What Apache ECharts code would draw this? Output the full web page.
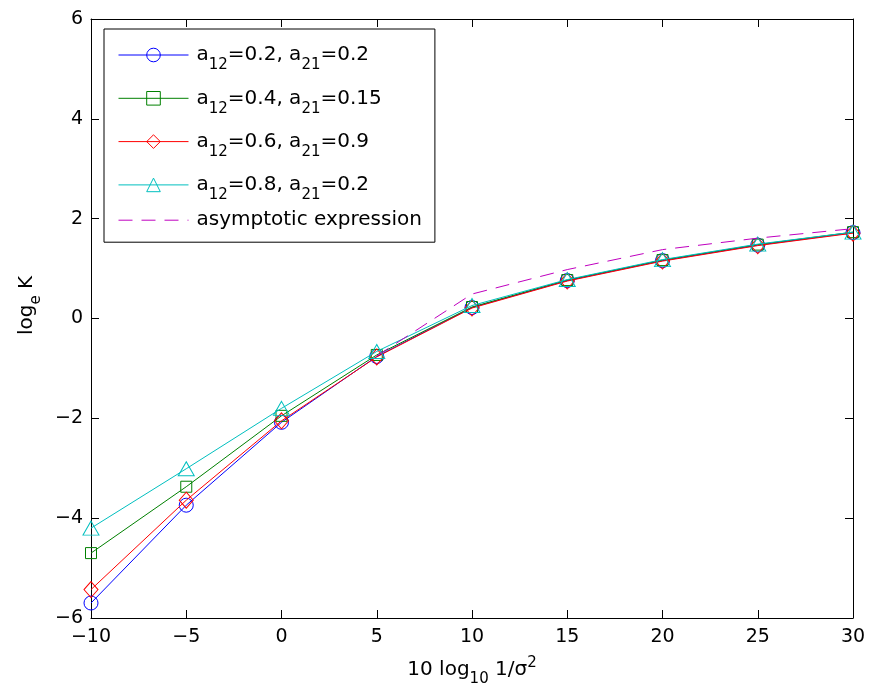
<!DOCTYPE html>
<html><head><meta charset="utf-8">
<script src="https://cdn.jsdelivr.net/npm/echarts@6/dist/echarts.min.js"></script>
<style>html,body{margin:0;padding:0;background:#fff}#c{width:869px;height:693px}</style>
</head><body><div id="c"></div>
<script>
const xValues = [-10, -5, 0, 5, 10, 15, 20, 25, 30];
const serA = [-5.70, -3.74, -2.08, -0.76, 0.22, 0.76, 1.16, 1.47, 1.72];
const serB = [-4.70, -3.37, -1.95, -0.73, 0.23, 0.77, 1.17, 1.48, 1.73];
const serC = [-5.43, -3.64, -2.05, -0.77, 0.21, 0.75, 1.15, 1.46, 1.71];
const serD = [-4.20, -3.01, -1.80, -0.66, 0.26, 0.78, 1.18, 1.49, 1.73];
const asymX = [5, 10, 15, 20, 25, 30];
const asymY = [-0.75, 0.49, 0.98, 1.38, 1.61, 1.80];
const a12 = ['0.2', '0.4', '0.6', '0.8'];
const a21 = ['0.2', '0.15', '0.9', '0.2'];
const asymName = 'asymptotic expression';
const xTicks = { min: -10, max: 30, step: 5 };
const yTicks = { min: -6, max: 6, step: 2 };

const FONT = 'DejaVu Sans';
const colors = ['#0000ff', '#008000', '#ff0000', '#00bfbf'];
const markers = ['circle', 'rect', 'diamond', 'triangle'];
const markerSizes = [14, 11, [14, 16], [16, 14]];
const seriesVals = [serA, serB, serC, serD];
const names = a12.map((v, i) => `a12=${v}, a21=${a21[i]}`);
const richNames = {};
names.forEach((n, i) => {
  richNames[n] = `{n|a}{s|12}{n|=${a12[i]}, a}{s|21}{n|=${a21[i]}}`;
});
richNames[asymName] = `{n|${asymName}}`;
const DASH = [14, 9];

const fmtMinus = v => String(v).replace('-', '\u2212');

const series = seriesVals.map((vals, i) => ({
  name: names[i],
  type: 'line',
  xAxisIndex: 0, yAxisIndex: 0,
  data: xValues.map((x, j) => [x, vals[j]]),
  symbol: markers[i],
  symbolSize: markerSizes[i],
  showAllSymbol: true,
  color: colors[i],
  lineStyle: { color: colors[i], width: 1 },
  itemStyle: { color: 'rgba(0,0,0,0)', borderColor: colors[i], borderWidth: 1 },
  emphasis: { disabled: true },
  animation: false,
  z: 2 + i
}));
series.push({
  name: asymName,
  type: 'line',
  xAxisIndex: 0, yAxisIndex: 0,
  data: asymX.map((x, j) => [x, asymY[j]]),
  symbol: 'none',
  color: '#bf00bf',
  lineStyle: { color: '#bf00bf', width: 1, type: DASH },
  emphasis: { disabled: true },
  animation: false,
  z: 7
});

const axisCommon = {
  axisLine: { show: true, onZero: false, lineStyle: { color: '#000', width: 1 } },
  axisTick: { show: true, inside: true, length: 8, lineStyle: { color: '#000', width: 1 } },
  splitLine: { show: false }
};

const legendData = names.map(n => ({ name: n }));
legendData.push({
  name: asymName,
  itemStyle: { color: 'rgba(0,0,0,0)', borderColor: 'rgba(0,0,0,0)', borderWidth: 0, opacity: 0 },
  lineStyle: { color: '#bf00bf', width: 1, type: DASH, opacity: 1 }
});

const chart = echarts.init(document.getElementById('c'), null, { renderer: 'canvas' });
chart.setOption({
  backgroundColor: '#fff',
  animation: false,
  grid: { left: 91, right: 16, top: 19, bottom: 75, containLabel: false },
  legend: {
    orient: 'vertical',
    left: 104, top: 29,
    padding: [8, 13, 12, 14],
    itemGap: 7.3,
    itemWidth: 70, itemHeight: 17,
    backgroundColor: '#fff',
    borderColor: '#000', borderWidth: 1,
    selectedMode: false,
    data: legendData,
    itemStyle: { borderWidth: 1 },
    lineStyle: { width: 1 },
    formatter: n => richNames[n],
    textStyle: {
      fontFamily: FONT, fontSize: 20, color: '#000',
      padding: [0, 0, 0, 3],
      rich: {
        n: { fontFamily: FONT, fontSize: 20, lineHeight: 24, color: '#000' },
        s: { fontFamily: FONT, fontSize: 15, lineHeight: 15, color: '#000', padding: [21, 0, 0, 0] }
      }
    }
  },
  xAxis: [
    Object.assign({
      type: 'value', min: xTicks.min, max: xTicks.max, interval: xTicks.step, position: 'bottom',
      axisLabel: { show: true, color: '#000', fontFamily: FONT, fontSize: 19, margin: 10, formatter: fmtMinus },
      name: '{n|10 log}{s|10}{n| 1/σ}{p|2}',
      nameLocation: 'middle', nameGap: 30,
      nameTextStyle: {
        rich: {
          n: { fontFamily: FONT, fontSize: 20, lineHeight: 24, color: '#000' },
          s: { fontFamily: FONT, fontSize: 15, lineHeight: 15, color: '#000', padding: [20, 0, 0, 0] },
          p: { fontFamily: FONT, fontSize: 15, lineHeight: 15, color: '#000', padding: [0, 0, 12, 0] }
        }
      }
    }, axisCommon),
    Object.assign({
      type: 'value', min: xTicks.min, max: xTicks.max, interval: xTicks.step, position: 'top',
      axisLabel: { show: false }
    }, axisCommon)
  ],
  yAxis: [
    Object.assign({
      type: 'value', min: yTicks.min, max: yTicks.max, interval: yTicks.step, position: 'left',
      axisLabel: { show: true, color: '#000', fontFamily: FONT, fontSize: 19, margin: 8, formatter: fmtMinus },
      name: '{n|log}{s|e}{n| K}',
      nameLocation: 'middle', nameGap: 52, nameRotate: 90,
      nameTextStyle: {
        padding: [0, 0, 0, 26],
        rich: {
          n: { fontFamily: FONT, fontSize: 20, lineHeight: 24, color: '#000' },
          s: { fontFamily: FONT, fontSize: 15, lineHeight: 15, color: '#000', padding: [20, 0, 0, 0] }
        }
      }
    }, axisCommon),
    Object.assign({
      type: 'value', min: yTicks.min, max: yTicks.max, interval: yTicks.step, position: 'right',
      axisLabel: { show: false }
    }, axisCommon)
  ],
  series: series
});
</script>
</body></html>
